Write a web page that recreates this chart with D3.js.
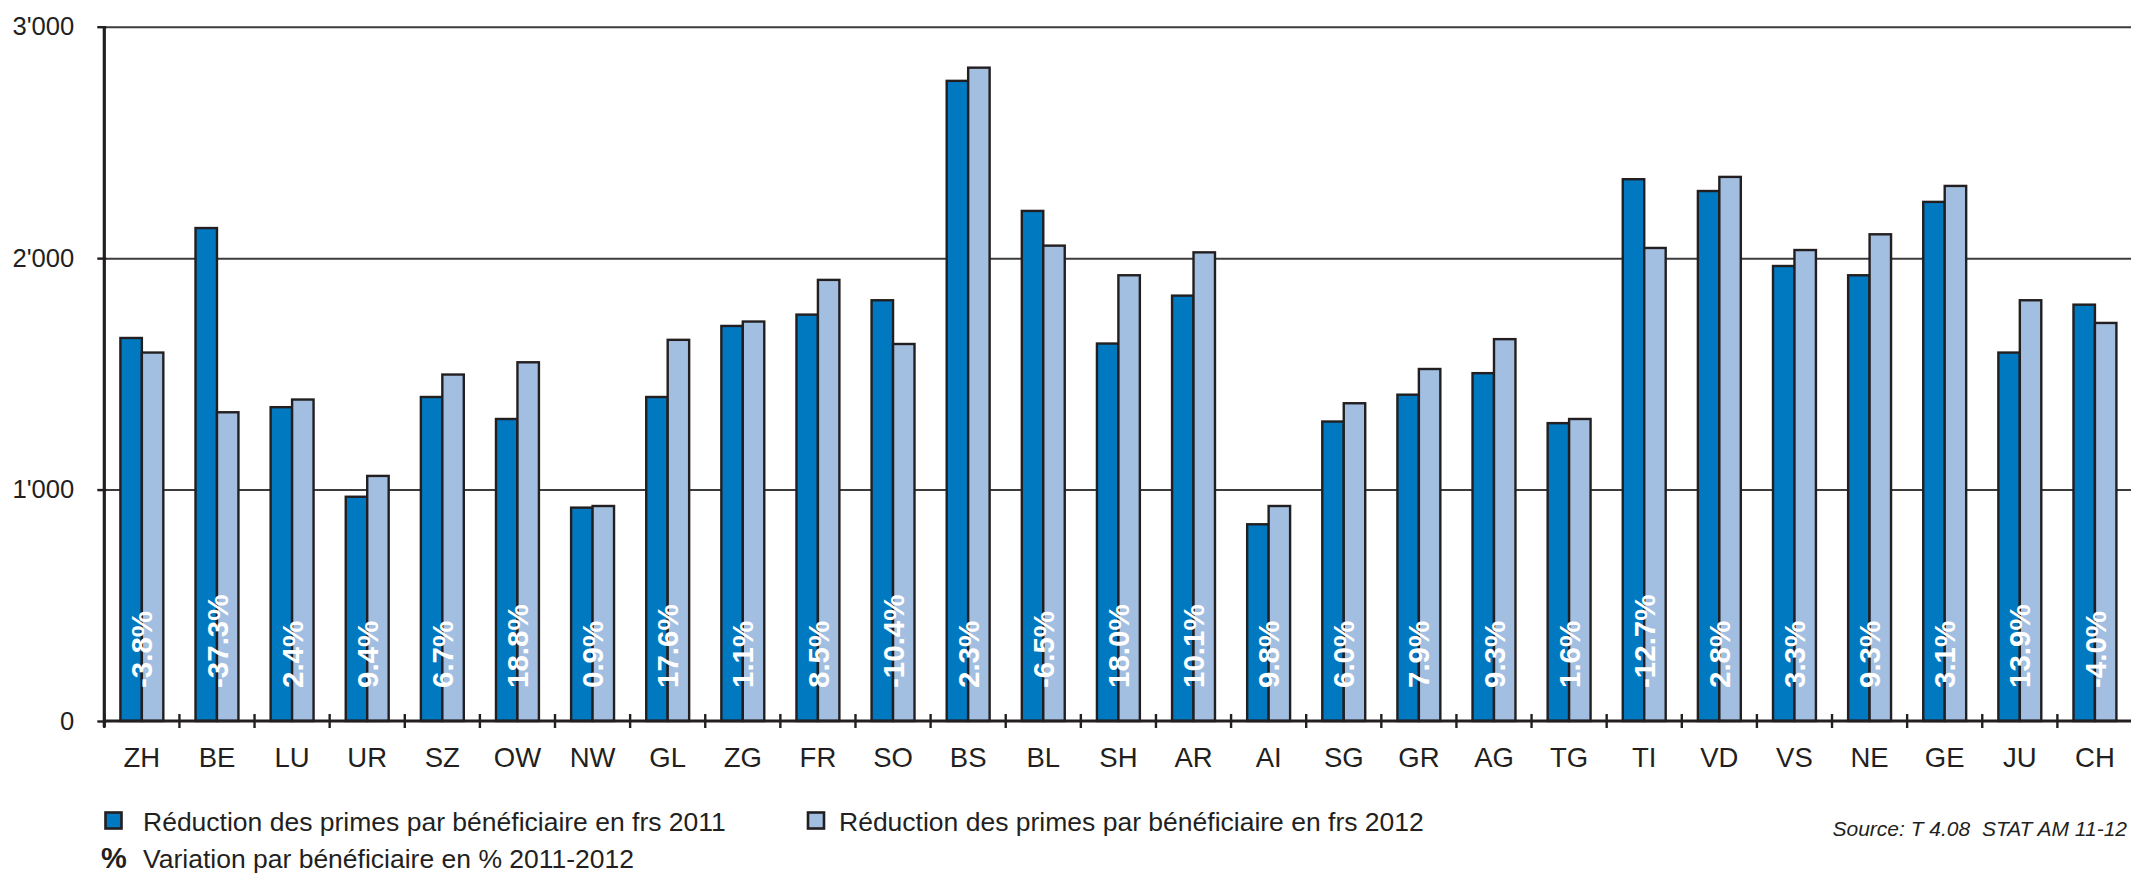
<!DOCTYPE html>
<html>
<head>
<meta charset="utf-8">
<script src="https://cdn.jsdelivr.net/npm/d3@7"></script>
<style>
  body { margin: 0; background: #fff; }
  svg { display: block; font-family: "Liberation Sans", Arial, sans-serif; }
</style>
</head>
<body>
<svg width="2131" height="873"></svg>
<script>
  // cantons and values
  const cantons = ['ZH','BE','LU','UR','SZ','OW','NW','GL','ZG','FR','SO','BS','BL','SH','AR','AI','SG','GR','AG','TG','TI','VD','VS','NE','GE','JU','CH'];
  const values2011 = [1655,2130,1356,969,1400,1305,922,1400,1707,1756,1818,2766,2204,1631,1838,850,1294,1410,1503,1287,2341,2290,1966,1926,2243,1592,1799];
  const values2012 = [1592,1334,1389,1059,1497,1550,929,1647,1726,1906,1629,2823,2054,1926,2025,929,1373,1521,1650,1305,2044,2351,2035,2103,2312,1818,1720];
  const variation = ['-3.8%','-37.3%','2.4%','9.4%','6.7%','18.8%','0.9%','17.6%','1.1%','8.5%','-10.4%','2.3%','-6.5%','18.0%','10.1%','9.8%','6.0%','7.9%','9.3%','1.6%','-12.7%','2.8%','3.3%','9.3%','3.1%','13.9%','-4.0%'];
  const yTicks = [0, 1000, 2000, 3000];
  const seriesNames = ['Réduction des primes par bénéficiaire en frs 2011', 'Réduction des primes par bénéficiaire en frs 2012'];
  const seriesKeys = ['2011', '2012'];
  const colors = ['#0079c1', '#a2bfe2'];
  const legendPct = 'Variation par bénéficiaire en % 2011-2012';
  const sourceText = 'Source: T 4.08  STAT AM 11-12';

(function (d3) {
  'use strict';
  const ink = '#231f20';
  const svg = d3.select('svg');
  const width = +svg.attr('width');

  const data = cantons.map((c, i) => ({ canton: c, v: [values2011[i], values2012[i]], pct: variation[i] }));

  const plotLeft = 104.3, plotRight = 2132.5, plotTop = 26.7, plotBottom = 721;

  const x = d3.scaleBand().domain(cantons).range([plotLeft, plotRight]);
  const xs = d3.scaleBand().domain(seriesKeys).range([0, x.bandwidth()]).paddingOuter(0.75);
  const y = d3.scaleLinear().domain([0, 3000]).range([plotBottom, plotTop]);

  const fmt = d3.formatLocale({ decimal: '.', thousands: "'", grouping: [3], currency: ['', ''] }).format(',');

  // gridlines
  svg.append('g')
    .attr('transform', `translate(${plotLeft},0)`)
    .call(d3.axisLeft(y).tickValues(yTicks.slice(1)).tickSize(-(width - plotLeft)).tickFormat(''))
    .call(g => g.select('.domain').remove())
    .selectAll('.tick line')
      .attr('stroke', '#3c3c3c')
      .attr('stroke-width', 2);

  // bars
  const groups = svg.append('g').selectAll('g').data(data)
    .enter().append('g')
      .attr('transform', d => `translate(${x(d.canton)},0)`);

  groups.selectAll('rect').data(d => d.v.map((v, k) => ({ key: seriesKeys[k], v: v, k: k })))
    .enter().append('rect')
      .attr('x', d => xs(d.key))
      .attr('y', d => y(d.v))
      .attr('width', xs.bandwidth())
      .attr('height', d => plotBottom - y(d.v))
      .attr('fill', d => colors[d.k])
      .attr('stroke', ink)
      .attr('stroke-width', 2.4);

  // percentage labels
  groups.append('text')
    .attr('transform', `translate(${x.bandwidth() / 2},688) rotate(-90)`)
    .attr('dy', '0.36em')
    .attr('fill', '#fff')
    .attr('font-weight', 'bold')
    .attr('font-size', 29.5)
    .text(d => d.pct);

  // y axis
  const yAxisG = svg.append('g')
    .attr('transform', `translate(${plotLeft},0)`)
    .call(d3.axisLeft(y).tickValues(yTicks).tickSize(7).tickPadding(23).tickFormat(fmt));
  yAxisG.select('.domain').remove();
  yAxisG.selectAll('.tick line').attr('x1', 2).attr('stroke', ink).attr('stroke-width', 2.4);
  yAxisG.selectAll('.tick text')
    .attr('font-size', 25.6)
    .attr('font-family', '"Liberation Sans", Arial, sans-serif')
    .attr('fill', ink);
  yAxisG.append('line')
    .attr('y1', plotTop).attr('y2', plotBottom + 6)
    .attr('stroke', ink).attr('stroke-width', 3.2);

  // x axis
  const xAxisG = svg.append('g')
    .attr('transform', `translate(0,${plotBottom})`)
    .call(d3.axisBottom(x).tickSize(0).tickPadding(26));
  xAxisG.select('.domain').remove();
  xAxisG.selectAll('.tick text')
    .attr('font-size', 27.5)
    .attr('font-family', '"Liberation Sans", Arial, sans-serif')
    .attr('fill', ink);
  xAxisG.append('line')
    .attr('x1', plotLeft).attr('x2', width)
    .attr('stroke', ink).attr('stroke-width', 3.2);
  xAxisG.selectAll('.sep').data(cantons)
    .enter().append('line')
      .attr('class', 'sep')
      .attr('x1', d => x(d)).attr('x2', d => x(d))
      .attr('y1', -7).attr('y2', 7)
      .attr('stroke', ink).attr('stroke-width', 2.4);

  // legend
  const legend = svg.append('g');
  const legendPos = [{ x: 104.5, tx: 143 }, { x: 807, tx: 839 }];
  seriesNames.forEach((name, k) => {
    legend.append('rect')
      .attr('x', legendPos[k].x + 1).attr('y', 812.5)
      .attr('width', 16).attr('height', 16)
      .attr('fill', colors[k])
      .attr('stroke', ink).attr('stroke-width', 2.6);
    legend.append('text')
      .attr('x', legendPos[k].tx).attr('y', 830.5)
      .attr('font-size', 26.5).attr('fill', ink)
      .text(name);
  });
  legend.append('text')
    .attr('x', 101).attr('y', 868)
    .attr('font-size', 29).attr('font-weight', 'bold').attr('fill', ink)
    .text('%');
  legend.append('text')
    .attr('x', 143).attr('y', 868)
    .attr('font-size', 26.5).attr('fill', ink)
    .text(legendPct);

  svg.append('text')
    .attr('x', 2127).attr('y', 836)
    .attr('text-anchor', 'end')
    .attr('font-size', 21).attr('font-style', 'italic').attr('fill', ink)
    .style('white-space', 'pre')
    .text(sourceText);
}(d3));
</script>
</body>
</html>
